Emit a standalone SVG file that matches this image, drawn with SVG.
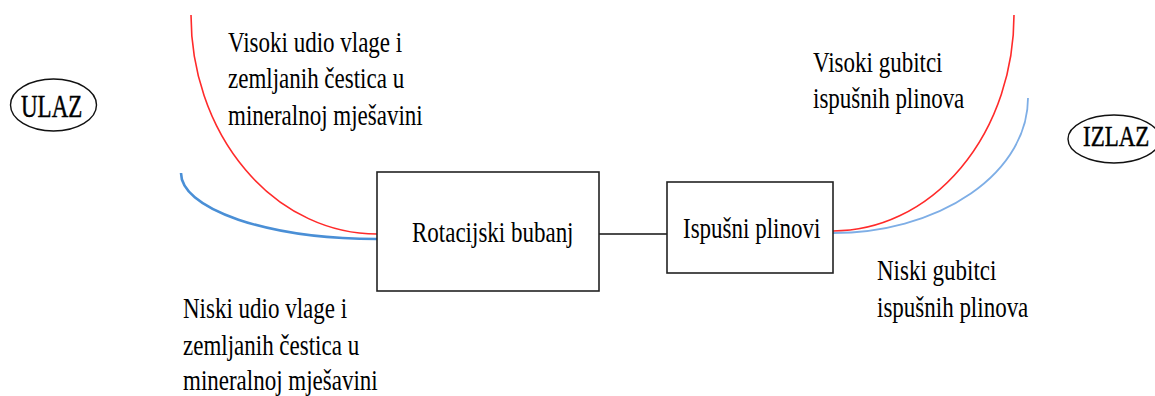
<svg xmlns="http://www.w3.org/2000/svg" width="1155" height="396" viewBox="0 0 1155 396">
<style>
  text { font-family: "Liberation Serif", "Times New Roman", serif; font-size: 23px; fill: #000; }
  .lbl { stroke: #000; stroke-width: 0.35; }
  .box { fill: #fff; stroke: #222; stroke-width: 1.6; }
  .oval { fill: #fff; stroke: #111; stroke-width: 1.4; }
  .red { fill: none; stroke: #ff2a2a; stroke-width: 1.6; }
  .blue { fill: none; stroke: #4a8fd6; stroke-width: 2.6; }
  .blue2 { fill: none; stroke: #7eaee6; stroke-width: 1.8; }
  .link { stroke: #111; stroke-width: 1.5; fill: none; }
</style>
<rect width="1155" height="396" fill="#fff"/>
<g id="connectors">
  <path class="red" d="M191,15 A186,219 0 0 0 377,234"/>
  <path class="blue" d="M181,173 A196,66 0 0 0 377,239"/>
  <path class="red" d="M833,231 A181,216 0 0 0 1014,15"/>
  <path class="blue2" d="M833,233 A195,135 0 0 0 1028,98"/>
  <line class="link" x1="599" y1="234" x2="667" y2="234"/>
</g>
<g id="ulaz">
  <ellipse class="oval" cx="53.5" cy="105" rx="43" ry="26"/>
  <text class="lbl" transform="translate(21,117) scale(1,1.35)">ULAZ</text>
</g>
<g id="izlaz">
  <ellipse class="oval" cx="1114" cy="139" rx="46" ry="24"/>
  <text class="lbl" transform="translate(1083,146) scale(1,1.25)">IZLAZ</text>
</g>
<g id="rotacijski-bubanj">
  <rect class="box" x="377" y="172" width="222" height="119"/>
  <text transform="translate(412,242) scale(1,1.3)">Rotacijski bubanj</text>
</g>
<g id="ispusni-plinovi">
  <rect class="box" x="667" y="182" width="166" height="91"/>
  <text transform="translate(683,238) scale(1,1.3)">Ispušni plinovi</text>
</g>
<g id="label-visoki-udio">
  <text transform="translate(228,52) scale(1,1.3)"><tspan x="0" y="0">Visoki udio vlage i</tspan><tspan x="0" y="27.9">zemljanih čestica u</tspan><tspan x="0" y="56.2">mineralnoj mješavini</tspan></text>
</g>
<g id="label-niski-udio">
  <text transform="translate(183,318) scale(1,1.3)"><tspan x="0" y="0">Niski udio vlage i</tspan><tspan x="0" y="28.3">zemljanih čestica u</tspan><tspan x="0" y="55.4">mineralnoj mješavini</tspan></text>
</g>
<g id="label-visoki-gubitci">
  <text transform="translate(813,72) scale(1,1.3)"><tspan x="0" y="0">Visoki gubitci</tspan><tspan x="0" y="27.7">ispušnih plinova</tspan></text>
</g>
<g id="label-niski-gubitci">
  <text transform="translate(877,280) scale(1,1.3)"><tspan x="0" y="0">Niski gubitci</tspan><tspan x="0" y="28.5">ispušnih plinova</tspan></text>
</g>
</svg>
